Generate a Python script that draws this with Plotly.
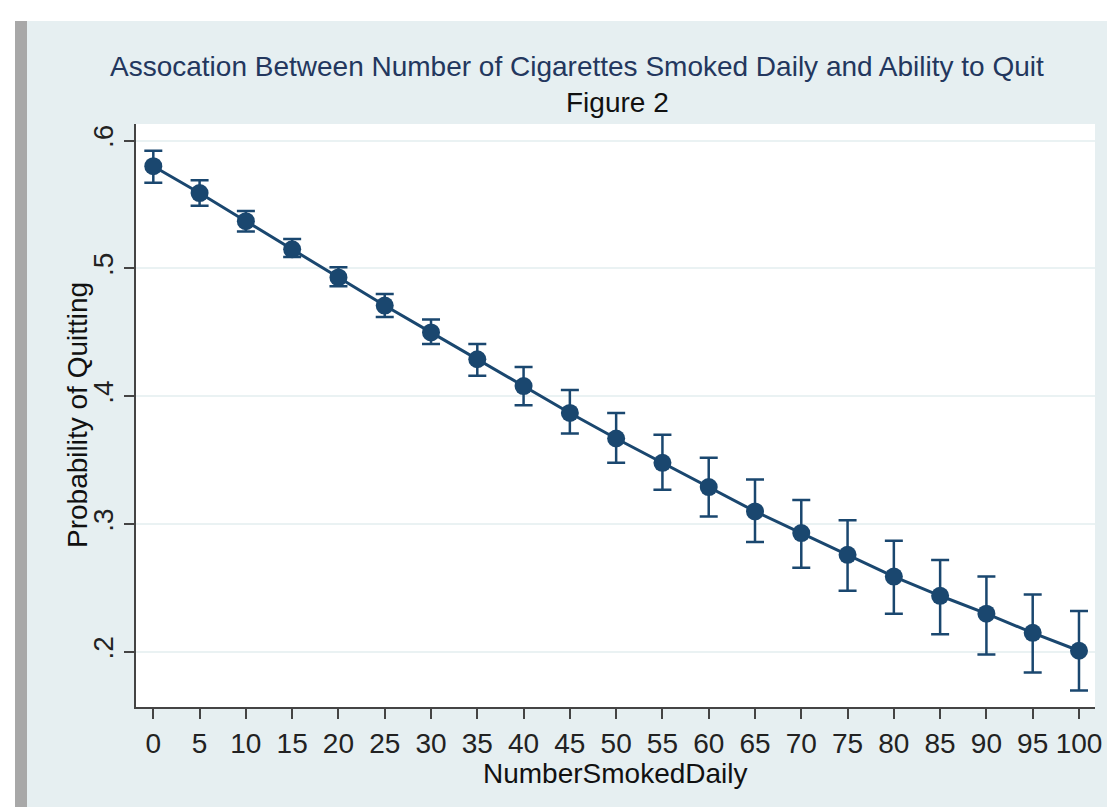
import plotly.graph_objects as go

# Data
cigs = [0, 5, 10, 15, 20, 25, 30, 35, 40, 45, 50, 55, 60, 65, 70, 75, 80, 85, 90, 95, 100]
prob = [0.580, 0.559, 0.537, 0.515, 0.493, 0.471, 0.450, 0.429, 0.408, 0.387, 0.367,
        0.348, 0.329, 0.310, 0.293, 0.276, 0.259, 0.244, 0.230, 0.215, 0.201]
ci_hi = [0.592, 0.569, 0.545, 0.523, 0.501, 0.480, 0.460, 0.441, 0.423, 0.405, 0.387,
         0.370, 0.352, 0.335, 0.319, 0.303, 0.287, 0.272, 0.259, 0.245, 0.232]
ci_lo = [0.567, 0.549, 0.529, 0.509, 0.486, 0.462, 0.441, 0.416, 0.393, 0.371, 0.348,
         0.327, 0.306, 0.286, 0.266, 0.248, 0.230, 0.214, 0.198, 0.184, 0.170]
y_ticks = [0.2, 0.3, 0.4, 0.5, 0.6]
y_ticktext = [".2", ".3", ".4", ".5", ".6"]
x_ticks = list(range(0, 101, 5))

W, H = 1107, 807
L, R, T, B = 136, 12, 124, 100
pw, ph = W - L - R, H - T - B

def px_x(p):
    return (p - L) / pw

def px_y(p):
    return (H - B - p) / ph

navy = "#1A476F"
font = "Liberation Sans, Arial, sans-serif"
FS = 28

err_plus = [h - p for h, p in zip(ci_hi, prob)]
err_minus = [p - l for p, l in zip(prob, ci_lo)]

fig = go.Figure()
fig.add_trace(go.Scatter(
    x=cigs, y=prob, mode="lines+markers",
    line=dict(color=navy, width=3),
    marker=dict(color=navy, size=18),
    error_y=dict(type="data", array=err_plus, arrayminus=err_minus,
                 color=navy, thickness=2.5, width=9),
    showlegend=False,
))

bg = "#E6EFF1"
fig.update_layout(
    width=W, height=H,
    margin=dict(l=L, r=R, t=T, b=B, autoexpand=False),
    paper_bgcolor=bg, plot_bgcolor="white",
    font=dict(family=font, size=FS, color="#111111"),
    xaxis=dict(range=[-1.87, 101.73], tickvals=x_ticks, showgrid=False,
               automargin=False,
               zeroline=False, showline=True, linecolor="#444444", linewidth=2,
               ticks="outside", ticklen=10, tickwidth=2, tickcolor="#444444",
               tickfont=dict(size=FS, color="#222222")),
    yaxis=dict(range=[0.157, 0.613], tickvals=y_ticks, ticktext=y_ticktext,
               automargin=False,
               tickangle=-90, showgrid=True, gridcolor="#EAF2F3", gridwidth=2,
               zeroline=False, showline=True, linecolor="#444444", linewidth=2,
               ticks="outside", ticklen=10, tickwidth=2, tickcolor="#444444",
               tickfont=dict(size=FS, color="#222222")),
    annotations=[
        dict(text="Assocation Between Number of Cigarettes Smoked Daily and Ability to Quit",
             xref="paper", yref="paper", x=px_x(577), y=px_y(66),
             xanchor="center", yanchor="middle", showarrow=False,
             font=dict(size=FS, color="#23375E", family=font)),
        dict(text="Figure 2",
             xref="paper", yref="paper", x=px_x(617), y=px_y(103),
             xanchor="center", yanchor="middle", showarrow=False,
             font=dict(size=FS, color="#111111", family=font)),
        dict(text="NumberSmokedDaily",
             xref="paper", yref="paper", x=px_x(615), y=px_y(773),
             xanchor="center", yanchor="middle", showarrow=False,
             font=dict(size=FS, color="#111111", family=font)),
        dict(text="Probability of Quitting", textangle=-90,
             xref="paper", yref="paper", x=px_x(77), y=px_y(415),
             xanchor="center", yanchor="middle", showarrow=False,
             font=dict(size=FS, color="#111111", family=font)),
    ],
    shapes=[
        dict(type="rect", xref="paper", yref="paper",
             x0=px_x(0), x1=px_x(W), y0=px_y(21), y1=px_y(0),
             fillcolor="white", line=dict(width=0), layer="above"),
        dict(type="rect", xref="paper", yref="paper",
             x0=px_x(0), x1=px_x(15), y0=px_y(H), y1=px_y(21),
             fillcolor="white", line=dict(width=0), layer="above"),
        dict(type="rect", xref="paper", yref="paper",
             x0=px_x(15), x1=px_x(27), y0=px_y(H), y1=px_y(21),
             fillcolor="#A8A8A8", line=dict(width=0), layer="above"),
    ],
)

fig.write_html("out.html", config={"displayModeBar": False},
               post_script="document.body.style.margin='0';document.body.style.overflow='hidden';")
